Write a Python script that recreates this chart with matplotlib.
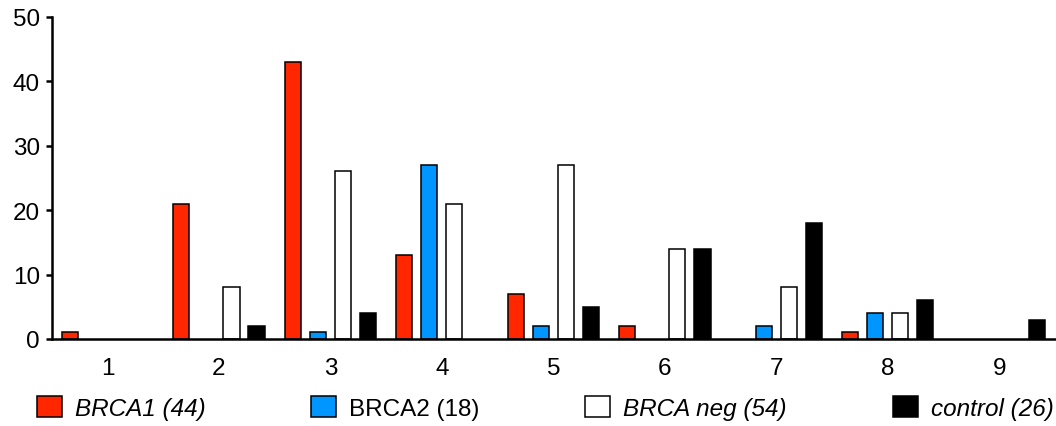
import numpy as np
import matplotlib.pyplot as plt

plt.rcParams['font.family'] = ['Liberation Sans', 'DejaVu Sans']

# données
categories = [1, 2, 3, 4, 5, 6, 7, 8, 9]
brca1 = [1, 21, 43, 13, 7, 2, 0, 1, 0]
brca2 = [0, 0, 1, 27, 2, 0, 2, 4, 0]
brca_neg = [0, 8, 26, 21, 27, 14, 8, 4, 0]
control = [0, 2, 4, 0, 5, 14, 18, 6, 3]
labels = ["BRCA1 (44)", "BRCA2 (18)", "BRCA neg (54)", "control (26)"]
couleurs = ["#ff2600", "#0096ff", "white", "black"]
italique = [True, False, True, True]

fig = plt.figure(figsize=(10.56, 4.27), dpi=100)
ax = fig.add_axes([0.049, 0.204, 0.95, 0.754])

x = np.array(categories)
pas = 0.225
larg = 0.145
series = [brca1, brca2, brca_neg, control]
for i, (vals, c) in enumerate(zip(series, couleurs)):
    vals = np.array(vals)
    lw = np.where(vals > 0, 1.1, 0)  # pas de trait pour les barres nulles
    ax.bar(x + (i - 1.5) * pas, vals, width=larg, color=c,
           edgecolor='black', linewidth=lw, label=labels[i], zorder=3)

ax.set_xlim(0.5, 9.5)
ax.set_ylim(0, 50)
ax.set_yticks(range(0, 51, 10))
ax.set_xticks(categories)
ax.spines['top'].set_visible(False)
ax.spines['right'].set_visible(False)
ax.spines['left'].set_linewidth(1.8)
ax.spines['bottom'].set_linewidth(1.8)
ax.spines['bottom'].set_zorder(4)
ax.tick_params(axis='y', length=4.5, width=1.8, labelsize=17.5, pad=4)
ax.tick_params(axis='x', length=0, labelsize=17.5, pad=13)

leg = fig.legend(loc='center left', bbox_to_anchor=(0.035, 0.042), ncol=4,
                 frameon=False, fontsize=17.5, handlelength=1.03, handleheight=0.9,
                 handletextpad=0.53, columnspacing=4.35, borderpad=0, borderaxespad=0)
for p in leg.get_patches():
    p.set_linewidth(1.1)
for t, it in zip(leg.get_texts(), italique):
    if it:
        t.set_style('italic')

fig.savefig("out.png", dpi=100)
